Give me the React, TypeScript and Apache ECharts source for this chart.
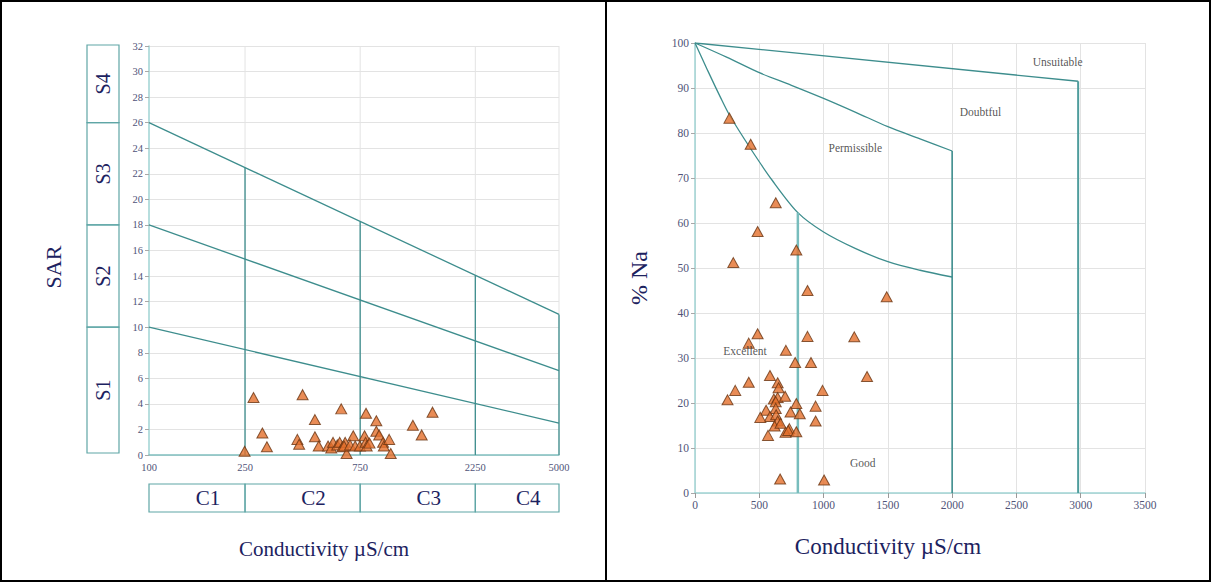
import React, { useEffect, useRef } from "react";
import * as echarts from "echarts";

// ---------- data ----------
const ecTicks = [100, 250, 750, 2250, 5000];
const sClasses = ["S1", "S2", "S3", "S4"];
const sBounds = [0, 10, 18, 26, 32];
const cClasses = ["C1", "C2", "C3", "C4"];

// SAR boundary lines (EC, SAR)
const sarLineS3S4 = [[100, 26], [5000, 11]];
const sarLineS2S3 = [[100, 18], [5000, 6.6]];
const sarLineS1S2 = [[100, 10], [5000, 2.5]];

const ecLeft = [249, 271, 295, 308, 433, 412, 419, 487, 487, 505, 626, 552, 569, 579, 603, 617, 633, 650, 659, 643, 702, 681, 715, 748, 782, 793, 790, 798, 820, 875, 875, 899, 933, 940, 989, 1004, 1240, 1349, 1496];
const sarValues = [0.29, 4.5, 1.72, 0.64, 4.72, 1.22, 0.84, 2.77, 1.43, 0.7, 3.61, 0.7, 0.55, 0.99, 0.79, 0.99, 0.64, 0.99, 0.12, 0.7, 1.51, 0.79, 0.7, 0.7, 1.51, 3.26, 0.99, 0.7, 0.93, 2.68, 1.86, 1.57, 0.99, 0.7, 1.22, 0.12, 2.33, 1.57, 3.35];

const ecRight = [268, 433, 628, 487, 298, 788, 875, 1491, 487, 418, 875, 1239, 707, 779, 902, 1338, 583, 643, 650, 418, 313, 992, 253, 613, 643, 701, 628, 788, 938, 553, 628, 743, 815, 583, 508, 631, 643, 938, 619, 665, 734, 704, 725, 788, 568, 662, 1004];
const naValues = [83.3, 77.5, 64.5, 58.1, 51.2, 54.0, 45.0, 43.6, 35.4, 33.3, 34.8, 34.7, 31.7, 29.0, 29.0, 25.9, 26.1, 24.5, 23.4, 24.6, 22.8, 22.8, 20.7, 20.9, 21.2, 21.5, 20.3, 19.9, 19.3, 18.4, 18.8, 18.0, 17.6, 17.0, 16.8, 17.4, 16.0, 16.0, 14.9, 15.5, 14.3, 13.5, 13.9, 13.6, 12.8, 3.1, 2.9];

// Wilcox boundaries (EC, %Na)
const curveExcellentGood = [[0, 100], [100, 93.8], [200, 87.8], [268, 84], [433, 76.5], [600, 69.5], [800, 62.3], [1000, 58], [1250, 54.3], [1500, 51.4], [1750, 49.5], [2000, 48]];
const curvePermissible = [[0, 100], [250, 96.8], [500, 93.4], [750, 90.6], [1000, 87.7], [1250, 84.6], [1500, 81.4], [1750, 78.7], [2000, 76]];
const lineDoubtful = [[0, 100], [2980, 91.5]];
const verticalExcellent = [[800, 0], [800, 62.3]];
const verticalPermissible = [[2000, 0], [2000, 76]];
const verticalDoubtful = [[2980, 0], [2980, 91.5]];

const regionNames = ["Unsuitable", "Doubtful", "Permissible", "Excellent", "Good"];
const regionEC = [2821, 2221, 1247, 389, 1304];
const regionNa = [95.7, 84.7, 76.7, 31.6, 6.7];

// ---------- styles ----------
const SERIF = "Liberation Serif";
const NAVY = "#1c2260";
const TEAL = "#3d8d8d";
const LIGHT_TEAL = "#9fd3d3";
const GRID = "#e3e3e3";
const TICK_TEXT = "#4f5378";

const lg = (v: number) => Math.log10(v);

function sarHighAt(ec: number) {
  const [[x0, y0], [x1, y1]] = sarLineS3S4;
  const t = (lg(ec) - lg(x0)) / (lg(x1) - lg(x0));
  return y0 + t * (y1 - y0);
}

const triangleStyle = { color: "#e36f2c", borderColor: "#6a3412", borderWidth: 1 };

function tealLine(data: number[][], xi: number, extra: any = {}) {
  return {
    type: "line",
    xAxisIndex: xi,
    yAxisIndex: xi,
    data,
    symbol: "none",
    silent: true,
    z: 2,
    lineStyle: { color: TEAL, width: 1.3 },
    ...extra,
  };
}

export default function App() {
  const ref = useRef<HTMLDivElement>(null);

  useEffect(() => {
    document.body.style.margin = "0";
    const el = ref.current!;
    const chart = echarts.init(el, null, { renderer: "svg" });

    const series: any[] = [];
    ecTicks.slice(1).forEach((v) => {
      series.push({
        type: "line", xAxisIndex: 0, yAxisIndex: 0, symbol: "none", silent: true, z: 1,
        data: [[lg(v), 0], [lg(v), 32]],
        lineStyle: { color: GRID, width: 1 },
      });
    });
    [sarLineS3S4, sarLineS2S3, sarLineS1S2].forEach((ln) => {
      series.push(tealLine(ln.map(([x, y]) => [lg(x), y]), 0));
    });
    ecTicks.slice(1).forEach((v) => {
      series.push(tealLine([[lg(v), 0], [lg(v), sarHighAt(v)]], 0));
    });
    series.push({
      type: "scatter", xAxisIndex: 0, yAxisIndex: 0, z: 5,
      symbol: "triangle", symbolSize: [11, 10],
      data: ecLeft.map((e, i) => [lg(e), sarValues[i]]),
      itemStyle: triangleStyle,
    });

    series.push(tealLine(curveExcellentGood, 1, { smooth: 0.3 }));
    series.push(tealLine(curvePermissible, 1, { smooth: 0.3 }));
    series.push(tealLine(lineDoubtful, 1));
    series.push(tealLine(verticalExcellent, 1, { lineStyle: { color: "#78bdbd", width: 2.5 } }));
    series.push(tealLine(verticalPermissible, 1, { lineStyle: { color: TEAL, width: 1.6 } }));
    series.push(tealLine(verticalDoubtful, 1, { lineStyle: { color: "#4f9d9d", width: 2 } }));
    series.push({
      type: "scatter", xAxisIndex: 1, yAxisIndex: 1, z: 5,
      symbol: "triangle", symbolSize: [11, 10],
      data: ecRight.map((e, i) => [e, naValues[i]]),
      itemStyle: triangleStyle,
    });
    series.push({
      type: "scatter", xAxisIndex: 1, yAxisIndex: 1, z: 6, silent: true,
      symbolSize: 0,
      data: regionNames.map((n, i) => ({ name: n, value: [regionEC[i], regionNa[i]] })),
      label: {
        show: true, position: "inside", formatter: "{b}",
        fontFamily: SERIF, fontSize: 11.5, color: "#2b2b2b",
      },
    });

    const axisLabelBase = { fontFamily: SERIF, color: TICK_TEXT };
    const plain = (v: number) => String(v);

    chart.setOption({
      animation: false,
      backgroundColor: "#ffffff",
      textStyle: { fontFamily: SERIF },
      grid: [
        { left: 149, top: 46, width: 410, height: 409 },
        { left: 695, top: 43, width: 450, height: 450 },
      ],
      xAxis: [
        {
          gridIndex: 0, type: "value", min: 2, max: lg(5000),
          axisLine: { show: true, onZero: false, lineStyle: { color: "#7fbfbf", width: 1.5 } },
          axisTick: { show: false },
          splitLine: { show: false },
          axisLabel: {
            ...axisLabelBase, fontSize: 10.5, margin: 7,
            customValues: ecTicks.map(lg),
            formatter: (v: number) => String(Math.round(Math.pow(10, v))),
          },
        },
        {
          gridIndex: 1, type: "value", min: 0, max: 3500, interval: 500,
          axisLine: { show: true, onZero: false, lineStyle: { color: LIGHT_TEAL, width: 1.5 } },
          axisTick: { show: true, length: 5, lineStyle: { color: "#9a9a9a" } },
          splitLine: { show: true, lineStyle: { color: GRID } },
          axisLabel: { ...axisLabelBase, fontSize: 11.5, margin: 6, formatter: plain },
        },
      ],
      yAxis: [
        {
          gridIndex: 0, type: "value", min: 0, max: 32, interval: 2,
          axisLine: { show: true, onZero: false, lineStyle: { color: LIGHT_TEAL, width: 1.5 } },
          axisTick: { show: true, length: 4, lineStyle: { color: "#a8a8a8" } },
          splitLine: { show: true, lineStyle: { color: GRID } },
          axisLabel: { ...axisLabelBase, fontSize: 10.5, margin: 6, formatter: plain },
        },
        {
          gridIndex: 1, type: "value", min: 0, max: 100, interval: 10,
          axisLine: { show: true, onZero: false, lineStyle: { color: LIGHT_TEAL, width: 1.5 } },
          axisTick: { show: true, length: 4, lineStyle: { color: "#a8a8a8" } },
          splitLine: { show: true, lineStyle: { color: GRID } },
          axisLabel: { ...axisLabelBase, fontSize: 11.5, margin: 6, formatter: plain },
        },
      ],
      series,
    });

    const p0 = (ec: number, sar: number) =>
      chart.convertToPixel({ gridIndex: 0 } as any, [lg(ec), sar]) as number[];

    const g: any[] = [];
    g.push({ type: "rect", shape: { x: 1, y: 1, width: 1209, height: 580 }, style: { fill: "none", stroke: "#000", lineWidth: 2 }, silent: true });
    g.push({ type: "line", shape: { x1: 606, y1: 1, x2: 606, y2: 581 }, style: { stroke: "#000", lineWidth: 2 }, silent: true });

    const sx0 = 87, sx1 = 119;
    for (let i = 0; i < sClasses.length; i++) {
      const yb = p0(100, sBounds[i])[1] - (i === 0 ? 2 : 0);
      const yt = p0(100, sBounds[i + 1])[1] - (i === 3 ? 1 : 0);
      g.push({ type: "rect", shape: { x: sx0, y: yt, width: sx1 - sx0, height: yb - yt }, style: { fill: "none", stroke: "#5fa6a6", lineWidth: 1.2 }, silent: true });
      g.push({
        type: "text", x: (sx0 + sx1) / 2, y: (yt + yb) / 2, rotation: Math.PI / 2, silent: true,
        style: { text: sClasses[i], fontFamily: SERIF, fontSize: 20, fill: NAVY, align: "center", verticalAlign: "middle" },
      });
    }
    const cy0 = 484, cy1 = 512;
    for (let i = 0; i < cClasses.length; i++) {
      const xl = p0(ecTicks[i], 0)[0];
      const xr = p0(ecTicks[i + 1], 0)[0];
      g.push({ type: "rect", shape: { x: xl, y: cy0, width: xr - xl, height: cy1 - cy0 }, style: { fill: "none", stroke: "#5fa6a6", lineWidth: 1.2 }, silent: true });
      g.push({
        type: "text", x: (xl + xr) / 2 + 11, y: (cy0 + cy1) / 2, silent: true,
        style: { text: cClasses[i], fontFamily: SERIF, fontSize: 21, fill: NAVY, align: "center", verticalAlign: "middle" },
      });
    }
    g.push({ type: "text", x: 53, y: 267, rotation: Math.PI / 2, silent: true, style: { text: "SAR", fontFamily: SERIF, fontSize: 22, fill: NAVY, align: "center", verticalAlign: "middle" } });
    g.push({ type: "text", x: 324, y: 549, silent: true, style: { text: "Conductivity µS/cm", fontFamily: SERIF, fontSize: 21, fill: NAVY, align: "center", verticalAlign: "middle" } });
    g.push({ type: "text", x: 639, y: 278, rotation: Math.PI / 2, silent: true, style: { text: "% Na", fontFamily: SERIF, fontSize: 24, fill: NAVY, align: "center", verticalAlign: "middle" } });
    g.push({ type: "text", x: 888, y: 546, silent: true, style: { text: "Conductivity µS/cm", fontFamily: SERIF, fontSize: 23, fill: NAVY, align: "center", verticalAlign: "middle" } });

    chart.setOption({ graphic: g });

    return () => chart.dispose();
  }, []);

  return <div ref={ref} style={{ width: 1212, height: 583, background: "#fff" }} />;
}
